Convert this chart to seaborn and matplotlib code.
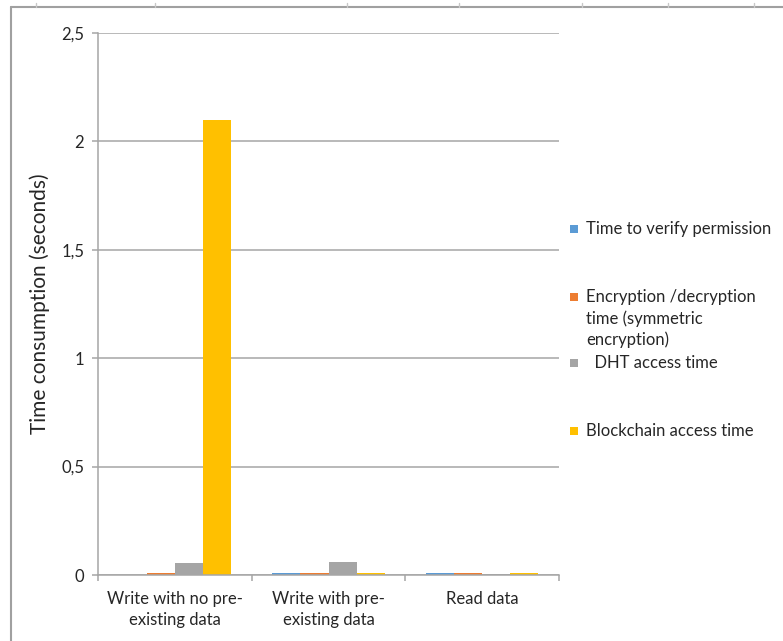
import matplotlib
matplotlib.use("Agg")
import matplotlib.pyplot as plt
from matplotlib.lines import Line2D
from matplotlib.patches import Rectangle
from matplotlib.ticker import FixedLocator, FuncFormatter
import seaborn as sns
import pandas as pd

# Operations on the x axis
categories = [
    "Write with no pre-\nexisting data",
    "Write with pre-\nexisting data",
    "Read data",
]

# Series names (legend entries)
series = [
    "Time to verify permission",
    "Encryption /decryption\ntime (symmetric\nencryption)",
    "  DHT access time",
    "Blockchain access time",
]

# Time consumption in seconds, one list per series
verify_permission = [0.0, 0.008, 0.008]
encryption_time = [0.008, 0.008, 0.008]
dht_access = [0.055, 0.06, 0.006]
blockchain_access = [2.1, 0.008, 0.008]

colors = ["#5B9BD5", "#ED7D31", "#A5A5A5", "#FFC000"]

values = [verify_permission, encryption_time, dht_access, blockchain_access]
rows = []
for name, vals in zip(series, values):
    for cat, v in zip(categories, vals):
        rows.append({"category": cat, "series": name, "value": v})
df = pd.DataFrame(rows)

sns.set_theme(style="white")
plt.rcParams["font.family"] = ["Lato", "DejaVu Sans"]

W, H = 783, 641
fig = plt.figure(figsize=(W / 100, H / 100), dpi=100)
ax = fig.add_axes([98 / W, 1 - 575 / H, (559 - 98) / W, (575 - 33) / H])

sns.barplot(
    data=df, x="category", y="value", hue="series",
    order=categories, hue_order=series, palette=colors,
    width=0.73, gap=0, errorbar=None, saturation=1,
    linewidth=0, ax=ax, legend=False,
)

grid_color = "#A6A6A6"
text_color = "#262626"
ax.set_ylim(0, 2.5)
ax.set_xlim(-0.5, len(categories) - 0.5)
ax.yaxis.set_major_locator(FixedLocator([0, 0.5, 1, 1.5, 2, 2.5]))
ax.yaxis.set_major_formatter(
    FuncFormatter(lambda v, _: ("%g" % v).replace(".", ","))
)
ax.yaxis.grid(True, color=grid_color, linewidth=1.1)
ax.set_axisbelow(True)

for side in ("top", "right"):
    ax.spines[side].set_visible(False)
for side in ("left", "bottom"):
    ax.spines[side].set_color(grid_color)
    ax.spines[side].set_linewidth(1.1)

# Category labels in the middle of each band, ticks on band boundaries
ax.set_xticks(range(len(categories)))
ax.set_xticklabels(categories, linespacing=1.38)
ax.set_xticks([i - 0.5 for i in range(len(categories) + 1)], minor=True)
ax.tick_params(axis="x", which="major", length=0, pad=11.5,
               labelsize=12, labelcolor=text_color)
ax.tick_params(axis="x", which="minor", length=4.5, width=1.1,
               color=grid_color, direction="out", bottom=True)
ax.tick_params(axis="y", which="major", length=4.5, width=1.1,
               color=grid_color, direction="out", left=True, pad=5.5,
               labelsize=12, labelcolor=text_color)

ax.set_xlabel("")
ax.set_ylabel("Time consumption (seconds)", fontsize=15,
              color=text_color, labelpad=8)

# Legend on the right, entries laid out down the side
entry_y = [229, 297, 363, 431]
for name, col, py in zip(series, colors, entry_y):
    fig.add_artist(Rectangle(
        (570 / W, 1 - (py + 4) / H), 8 / W, 8 / H,
        transform=fig.transFigure, facecolor=col, edgecolor="none"))
    fig.text(586 / W, 1 - (py - 8) / H, name, ha="left", va="top",
             fontsize=12, color=text_color, linespacing=1.38)

# Outer frame of the chart area with its small marks along the top
frame_color = "#A0A0A0"
fig.add_artist(Line2D([11 / W, 11 / W], [0, 1 - 7 / H],
                      transform=fig.transFigure, color=frame_color, lw=1.5))
fig.add_artist(Line2D([11 / W, 1], [1 - 7 / H, 1 - 7 / H],
                      transform=fig.transFigure, color=frame_color, lw=1.5))
for px in [36, 155, 347, 459, 582, 668, 754]:
    fig.add_artist(Line2D([px / W, px / W], [1 - 3 / H, 1 - 7 / H],
                          transform=fig.transFigure, color="#C8C8C8", lw=1))

fig.savefig("out.png", dpi=100, facecolor="white")
